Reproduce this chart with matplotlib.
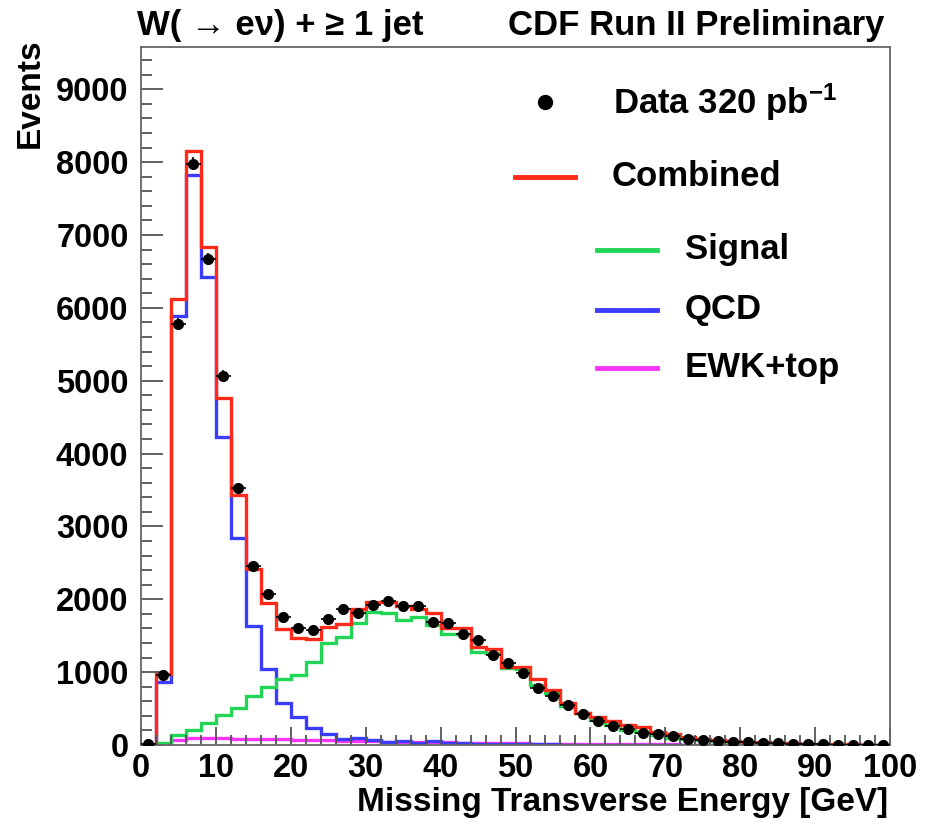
import numpy as np
import matplotlib
matplotlib.use("Agg")
import matplotlib.pyplot as plt
from matplotlib.lines import Line2D

plt.rcParams['font.family'] = ['Liberation Sans', 'DejaVu Sans']
plt.rcParams['font.weight'] = 'bold'
plt.rcParams['mathtext.default'] = 'regular'

# bins of 2 GeV from 0 to 100
bordes = np.arange(0, 102, 2)
centros = bordes[:-1] + 1

datos = [10, 960, 5780, 7980, 6670, 5070, 3530, 2456, 2072, 1760,
         1612, 1574, 1733, 1862, 1807, 1921, 1976, 1907, 1907, 1695,
         1678, 1523, 1441, 1235, 1121, 992, 786, 672, 545, 425,
         333, 255, 215, 170, 155, 118, 84, 69, 55, 43,
         45, 27, 23, 18, 11, 12, 6, 5, 3, 3]

combinado = [0, 975, 6128, 8154, 6829, 4757, 3426, 2410, 1944, 1591,
             1464, 1450, 1623, 1656, 1862, 1966, 1966, 1907, 1870, 1807,
             1610, 1600, 1340, 1320, 1075, 1065, 905, 750, 572, 443,
             385, 330, 270, 245, 175, 150, 110, 85, 65, 52,
             44, 36, 29, 23, 18, 14, 11, 8, 6, 5]

senal = [0, 30, 137, 206, 297, 412, 503, 672, 800, 905,
         965, 1143, 1395, 1477, 1669, 1820, 1805, 1710, 1760, 1650,
         1530, 1520, 1270, 1260, 1060, 1040, 830, 710, 530, 440,
         340, 280, 210, 185, 140, 100, 82, 65, 52, 42,
         36, 30, 24, 18, 14, 11, 8, 6, 5, 4]

qcd = [0, 870, 5890, 7830, 6425, 4230, 2836, 1633, 1043, 580,
       388, 237, 151, 82, 100, 69, 45, 50, 32, 60,
       25, 22, 18, 15, 12, 10, 8, 7, 6, 5,
       4, 4, 3, 3, 2, 2, 2, 2, 1, 1,
       1, 1, 1, 1, 1, 1, 1, 1, 1, 1]

ewk = [0, 15, 70, 90, 92, 90, 88, 85, 80, 78,
       75, 70, 65, 60, 55, 52, 48, 45, 42, 40,
       37, 34, 31, 28, 25, 22, 20, 18, 16, 14,
       12, 11, 10, 9, 8, 7, 6, 6, 5, 5,
       4, 4, 4, 3, 3, 3, 3, 2, 2, 2]

rojo = '#ff2a1a'
verde = '#22d655'
azul = '#3c3cff'
magenta = '#ff33ff'

fig = plt.figure(figsize=(9.32, 8.24), dpi=100)
ax = fig.add_axes([141/932, 1 - 745/824, (890 - 141)/932, (745 - 47)/824])

ax.stairs(ewk, bordes, color=magenta, lw=2.4)
ax.stairs(qcd, bordes, color=azul, lw=2.4)
ax.stairs(senal, bordes, color=verde, lw=2.4)
ax.stairs(combinado, bordes, color=rojo, lw=2.4)

datos = np.array(datos, dtype=float)
ax.errorbar(centros, datos, xerr=1, yerr=np.sqrt(datos), fmt='o', color='black',
            ms=7, elinewidth=1.2, capsize=0, zorder=5)

ax.set_xlim(0, 100)
ax.set_ylim(0, 9580)
ax.set_xticks(np.arange(0, 101, 10))
ax.set_xticks(np.arange(0, 101, 2), minor=True)
ax.set_yticks(np.arange(0, 9001, 1000))
ax.set_yticks(np.arange(0, 9501, 200), minor=True)

ax.tick_params(axis='both', which='both', direction='in', color='#555555', width=1.3,
               labelsize=23.5, top=False, right=False)
ax.tick_params(axis='y', which='major', length=16, pad=9)
ax.tick_params(axis='y', which='minor', length=8)
ax.tick_params(axis='x', which='major', length=13, pad=6)
ax.tick_params(axis='x', which='minor', length=7)
for lab in ax.get_xticklabels() + ax.get_yticklabels():
    lab.set_fontweight('bold')
for s in ax.spines.values():
    s.set_color('#666666')
    s.set_linewidth(1.3)

# titles and axis labels
fig.text(137/932, 1 - 25/824, 'W( → eν) + ≥ 1 jet', fontsize=25, fontweight='bold',
         ha='left', va='center')
fig.text(885/932, 1 - 25/824, 'CDF Run II Preliminary', fontsize=25, fontweight='bold',
         ha='right', va='center')
fig.text(30/932, 1 - 38/824, 'Events', fontsize=24, fontweight='bold', rotation=90,
         ha='center', va='top')
fig.text(888/932, 1 - 803/824, 'Missing Transverse Energy [GeV]', fontsize=24,
         fontweight='bold', ha='right', va='center')

# legend drawn by hand
fig.add_artist(Line2D([545/932], [1 - 102/824], marker='o', color='black', ms=10,
                      transform=fig.transFigure))
fig.text(613/932, 1 - 102/824, 'Data 320 pb$^{-1}$', fontsize=25, fontweight='bold',
         ha='left', va='center')
entradas = [(515, 575, 177, 612, rojo, 'Combined'),
            (597, 657, 250, 685, verde, 'Signal'),
            (597, 657, 310, 685, azul, 'QCD'),
            (597, 657, 368, 685, magenta, 'EWK+top')]
for x0, x1, y, xt, c, txt in entradas:
    fig.add_artist(Line2D([x0/932, x1/932], [1 - y/824, 1 - y/824], color=c, lw=3.5,
                          transform=fig.transFigure))
    fig.text(xt/932, 1 - y/824, txt, fontsize=25, fontweight='bold', ha='left', va='center')

fig.savefig('out.png', dpi=100)
